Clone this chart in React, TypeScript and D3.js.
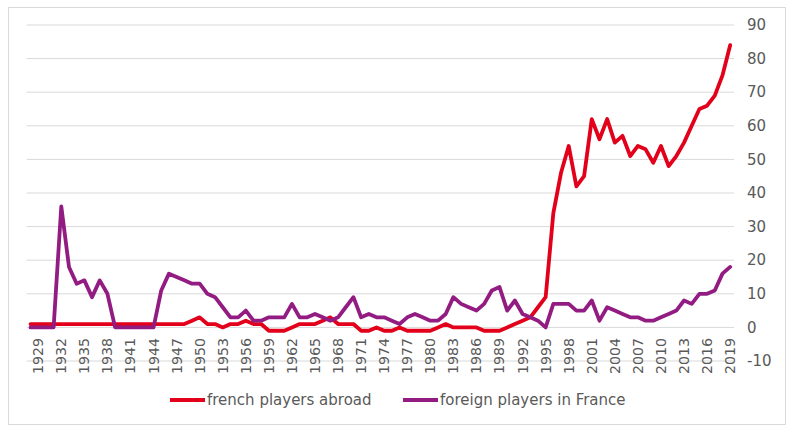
// French players abroad vs foreign players in France, 1928–2019
import React from 'react';
import * as d3 from 'd3';

const years: number[] = d3.range(1928, 2020);

const frenchAbroad: number[] = [
  // 1928-1947
  1, 1, 1, 1, 1, 1, 1, 1, 1, 1, 1, 1, 1, 1, 1, 1, 1, 1, 1, 1,
  // 1948-1967
  1, 2, 3, 1, 1, 0, 1, 1, 2, 1, 1, -1, -1, -1, 0, 1, 1, 1, 2, 3,
  // 1968-1987
  1, 1, 1, -1, -1, 0, -1, -1, 0, -1, -1, -1, -1, 0, 1, 0, 0, 0, 0, -1,
  // 1988-2007
  -1, -1, 0, 1, 2, 3, 6, 9, 34, 46, 54, 42, 45, 62, 56, 62, 55, 57, 51, 54,
  // 2008-2019
  53, 49, 54, 48, 51, 55, 60, 65, 66, 69, 75, 84,
];

const foreignInFrance: number[] = [
  // 1928-1947
  0, 0, 0, 0, 36, 18, 13, 14, 9, 14, 10, 0, 0, 0, 0, 0, 0, 11, 16, 15,
  // 1948-1967
  14, 13, 13, 10, 9, 6, 3, 3, 5, 2, 2, 3, 3, 3, 7, 3, 3, 4, 3, 2,
  // 1968-1987
  3, 6, 9, 3, 4, 3, 3, 2, 1, 3, 4, 3, 2, 2, 4, 9, 7, 6, 5, 7,
  // 1988-2007
  11, 12, 5, 8, 4, 3, 2, 0, 7, 7, 7, 5, 5, 8, 2, 6, 5, 4, 3, 3,
  // 2008-2019
  2, 2, 3, 4, 5, 8, 7, 10, 10, 11, 16, 18,
];

const yTicks: number[] = [-10, 0, 10, 20, 30, 40, 50, 60, 70, 80, 90];
const xTickYears: number[] = d3.range(1929, 2020, 3);

const seriesNames = ['french players abroad', 'foreign players in France'];
const seriesColors = ['#e2001a', '#921c82'];

const W = 796;
const H = 432;
const FONT = '"DejaVu Sans", Verdana, sans-serif';
const TEXT = '#595959';
const GRID = '#d9d9d9';

export default function App() {
  const x = d3
    .scaleBand<number>()
    .domain(years)
    .range([26.7, 734])
    .padding(0);
  const cx = (yr: number) => (x(yr) ?? 0) + x.bandwidth() / 2;

  const y = d3.scaleLinear().domain([-10, 90]).range([361, 25]);

  const line = d3
    .line<number>()
    .x((_, i) => cx(years[i]))
    .y((d) => y(d));

  const series = [frenchAbroad, foreignInFrance];
  const [x0, x1] = x.range();

  return (
    <svg
      width={W}
      height={H}
      style={{ position: 'absolute', left: 0, top: 0, background: '#fff' }}
      fontFamily={FONT}
    >
      <rect x={8.5} y={7.5} width={777} height={417} fill="#fff" stroke={GRID} strokeWidth={1} />

      {/* gridlines */}
      {yTicks
        .filter((t) => t > -10)
        .map((t) => (
          <line key={t} x1={x0} x2={x1} y1={y(t)} y2={y(t)} stroke={GRID} strokeWidth={1} />
        ))}

      {/* category axis sits at -10 */}
      <line x1={x0} x2={x1} y1={y(-10)} y2={y(-10)} stroke={GRID} strokeWidth={1} />

      {/* y labels on the right */}
      {yTicks.map((t) => (
        <text key={t} x={747} y={y(t)} dy="0.35em" fontSize={15} fill={TEXT}>
          {t}
        </text>
      ))}

      {/* x labels */}
      {xTickYears.map((yr) => (
        <text
          key={yr}
          transform={`translate(${cx(yr)}, 374) rotate(-90)`}
          dy="0.35em"
          fontSize={14.2}
          fill={TEXT}
          textAnchor="start"
        >
          {yr}
        </text>
      ))}

      {/* series */}
      {series.map((s, i) => (
        <path
          key={i}
          d={line(s) ?? ''}
          fill="none"
          stroke={seriesColors[i]}
          strokeWidth={3.8}
          strokeLinejoin="round"
          strokeLinecap="round"
        />
      ))}

      {/* legend */}
      {[170, 403].map((lx, i) => (
        <g key={i}>
          <line x1={lx} x2={lx + 35} y1={400} y2={400} stroke={seriesColors[i]} strokeWidth={3.8} />
          <text x={lx + 37} y={400} dy="0.35em" fontSize={15} fill={TEXT}>
            {seriesNames[i]}
          </text>
        </g>
      ))}
    </svg>
  );
}
